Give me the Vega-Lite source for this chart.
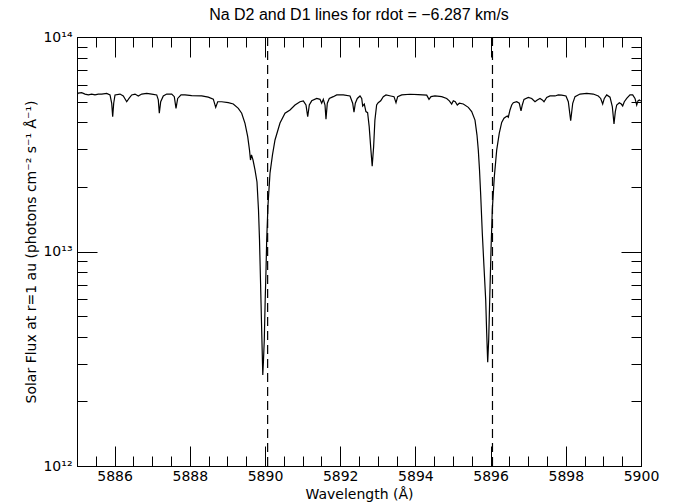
{
  "$schema": "https://vega.github.io/schema/vega-lite/v6.json",
  "width": 564,
  "height": 429,
  "autosize": "none",
  "padding": {"left": 77, "top": 37, "right": 46, "bottom": 38},
  "background": "white",
  "title": {"text": "Na D2 and D1 lines for rdot = −6.287 km/s", "font": "Liberation Sans", "fontSize": 16, "fontWeight": "normal", "color": "black", "anchor": "middle", "offset": 7},
  "config": {
    "view": {"stroke": "black", "strokeWidth": 1},
    "axis": {"grid": false, "domainColor": "black", "tickColor": "black", "labelColor": "black", "titleColor": "black", "labelFont": "DejaVu Sans", "titleFont": "DejaVu Sans", "labelFontSize": 14, "titleFontSize": 14, "titleFontWeight": "normal", "tickWidth": 1, "domainWidth": 1}
  },
  "datasets": {
    "spec": [
      {"w": 5885.000, "f": 5.37e13}, {"w": 5885.035, "f": 5.48e13}, {"w": 5885.125, "f": 5.50e13}, {"w": 5885.213, "f": 5.42e13},
      {"w": 5885.301, "f": 5.37e13}, {"w": 5885.391, "f": 5.42e13}, {"w": 5885.479, "f": 5.37e13}, {"w": 5885.566, "f": 5.42e13},
      {"w": 5885.657, "f": 5.42e13}, {"w": 5885.790, "f": 5.46e13}, {"w": 5885.878, "f": 5.37e13}, {"w": 5885.923, "f": 4.91e13},
      {"w": 5885.949, "f": 4.25e13}, {"w": 5885.976, "f": 4.91e13}, {"w": 5886.011, "f": 5.37e13}, {"w": 5886.144, "f": 5.42e13},
      {"w": 5886.231, "f": 5.31e13}, {"w": 5886.322, "f": 4.99e13}, {"w": 5886.383, "f": 5.17e13}, {"w": 5886.455, "f": 5.37e13},
      {"w": 5886.543, "f": 5.42e13}, {"w": 5886.630, "f": 5.31e13}, {"w": 5886.721, "f": 5.42e13}, {"w": 5886.854, "f": 5.46e13},
      {"w": 5886.987, "f": 5.42e13}, {"w": 5887.120, "f": 5.37e13}, {"w": 5887.162, "f": 5.09e13}, {"w": 5887.189, "f": 4.41e13},
      {"w": 5887.226, "f": 4.99e13}, {"w": 5887.295, "f": 5.31e13}, {"w": 5887.386, "f": 5.42e13}, {"w": 5887.519, "f": 5.42e13},
      {"w": 5887.588, "f": 5.27e13}, {"w": 5887.633, "f": 4.65e13}, {"w": 5887.678, "f": 5.17e13}, {"w": 5887.766, "f": 5.37e13},
      {"w": 5887.872, "f": 5.37e13}, {"w": 5888.051, "f": 5.33e13}, {"w": 5888.316, "f": 5.31e13}, {"w": 5888.492, "f": 5.24e13},
      {"w": 5888.625, "f": 5.13e13}, {"w": 5888.689, "f": 4.70e13}, {"w": 5888.742, "f": 4.99e13}, {"w": 5888.848, "f": 4.99e13},
      {"w": 5889.024, "f": 4.94e13}, {"w": 5889.157, "f": 4.87e13}, {"w": 5889.290, "f": 4.65e13}, {"w": 5889.380, "f": 4.41e13},
      {"w": 5889.468, "f": 3.96e13}, {"w": 5889.540, "f": 3.43e13}, {"w": 5889.588, "f": 2.97e13}, {"w": 5889.614, "f": 2.67e13},
      {"w": 5889.641, "f": 2.82e13}, {"w": 5889.681, "f": 2.67e13}, {"w": 5889.734, "f": 2.40e13}, {"w": 5889.787, "f": 2.11e13},
      {"w": 5889.827, "f": 1.56e13}, {"w": 5889.854, "f": 1.13e13}, {"w": 5889.880, "f": 7.36e12}, {"w": 5889.907, "f": 4.64e12},
      {"w": 5889.928, "f": 3.29e12}, {"w": 5889.941, "f": 2.66e12}, {"w": 5889.960, "f": 3.12e12}, {"w": 5889.981, "f": 3.87e12},
      {"w": 5890.005, "f": 5.94e12}, {"w": 5890.027, "f": 8.20e12}, {"w": 5890.045, "f": 1.13e13}, {"w": 5890.080, "f": 1.65e13},
      {"w": 5890.133, "f": 2.32e13}, {"w": 5890.199, "f": 2.82e13}, {"w": 5890.266, "f": 3.31e13}, {"w": 5890.399, "f": 3.97e13},
      {"w": 5890.532, "f": 4.41e13}, {"w": 5890.665, "f": 4.57e13}, {"w": 5890.798, "f": 4.82e13}, {"w": 5890.931, "f": 4.99e13},
      {"w": 5891.019, "f": 5.04e13}, {"w": 5891.090, "f": 4.82e13}, {"w": 5891.136, "f": 4.25e13}, {"w": 5891.178, "f": 4.82e13},
      {"w": 5891.242, "f": 5.04e13}, {"w": 5891.375, "f": 5.17e13}, {"w": 5891.463, "f": 5.12e13}, {"w": 5891.508, "f": 4.91e13},
      {"w": 5891.551, "f": 5.12e13}, {"w": 5891.596, "f": 4.82e13}, {"w": 5891.622, "f": 4.14e13}, {"w": 5891.657, "f": 4.91e13},
      {"w": 5891.710, "f": 5.17e13}, {"w": 5891.816, "f": 5.27e13}, {"w": 5891.907, "f": 5.37e13}, {"w": 5892.082, "f": 5.37e13},
      {"w": 5892.261, "f": 5.31e13}, {"w": 5892.332, "f": 4.91e13}, {"w": 5892.367, "f": 4.46e13}, {"w": 5892.402, "f": 4.91e13},
      {"w": 5892.455, "f": 5.17e13}, {"w": 5892.527, "f": 5.31e13}, {"w": 5892.572, "f": 5.17e13}, {"w": 5892.598, "f": 4.77e13},
      {"w": 5892.641, "f": 4.87e13}, {"w": 5892.684, "f": 4.49e13}, {"w": 5892.729, "f": 4.44e13}, {"w": 5892.771, "f": 3.82e13},
      {"w": 5892.817, "f": 2.97e13}, {"w": 5892.851, "f": 2.50e13}, {"w": 5892.889, "f": 3.08e13}, {"w": 5892.923, "f": 4.10e13},
      {"w": 5892.969, "f": 4.82e13}, {"w": 5893.011, "f": 4.94e13}, {"w": 5893.077, "f": 5.04e13}, {"w": 5893.146, "f": 5.27e13},
      {"w": 5893.218, "f": 5.37e13}, {"w": 5893.343, "f": 5.31e13}, {"w": 5893.431, "f": 5.27e13}, {"w": 5893.484, "f": 4.94e13},
      {"w": 5893.529, "f": 5.27e13}, {"w": 5893.636, "f": 5.37e13}, {"w": 5893.856, "f": 5.41e13}, {"w": 5894.077, "f": 5.39e13},
      {"w": 5894.301, "f": 5.36e13}, {"w": 5894.362, "f": 5.12e13}, {"w": 5894.415, "f": 5.27e13}, {"w": 5894.521, "f": 5.31e13},
      {"w": 5894.699, "f": 5.27e13}, {"w": 5894.832, "f": 5.17e13}, {"w": 5894.902, "f": 5.04e13}, {"w": 5894.965, "f": 4.87e13},
      {"w": 5895.008, "f": 5.04e13}, {"w": 5895.061, "f": 4.99e13}, {"w": 5895.114, "f": 4.82e13}, {"w": 5895.168, "f": 4.91e13},
      {"w": 5895.274, "f": 4.87e13}, {"w": 5895.407, "f": 4.70e13}, {"w": 5895.497, "f": 4.49e13}, {"w": 5895.585, "f": 4.10e13},
      {"w": 5895.638, "f": 3.49e13}, {"w": 5895.673, "f": 2.97e13}, {"w": 5895.705, "f": 2.40e13}, {"w": 5895.737, "f": 1.83e13},
      {"w": 5895.779, "f": 1.22e13}, {"w": 5895.824, "f": 8.50e12}, {"w": 5895.870, "f": 5.94e12}, {"w": 5895.896, "f": 4.17e12},
      {"w": 5895.923, "f": 3.05e12}, {"w": 5895.949, "f": 3.87e12}, {"w": 5895.976, "f": 5.94e12}, {"w": 5896.011, "f": 1.02e13},
      {"w": 5896.045, "f": 1.56e13}, {"w": 5896.098, "f": 2.22e13}, {"w": 5896.162, "f": 2.97e13}, {"w": 5896.231, "f": 3.56e13},
      {"w": 5896.295, "f": 4.00e13}, {"w": 5896.356, "f": 4.18e13}, {"w": 5896.410, "f": 4.25e13}, {"w": 5896.444, "f": 4.28e13},
      {"w": 5896.471, "f": 4.23e13}, {"w": 5896.516, "f": 4.57e13}, {"w": 5896.561, "f": 4.82e13}, {"w": 5896.604, "f": 4.94e13},
      {"w": 5896.694, "f": 4.99e13}, {"w": 5896.763, "f": 4.91e13}, {"w": 5896.809, "f": 4.53e13}, {"w": 5896.843, "f": 4.82e13},
      {"w": 5896.888, "f": 5.12e13}, {"w": 5897.003, "f": 5.23e13}, {"w": 5897.093, "f": 5.17e13}, {"w": 5897.181, "f": 4.99e13},
      {"w": 5897.242, "f": 5.09e13}, {"w": 5897.314, "f": 5.17e13}, {"w": 5897.375, "f": 5.09e13}, {"w": 5897.420, "f": 4.99e13},
      {"w": 5897.492, "f": 5.23e13}, {"w": 5897.580, "f": 5.31e13}, {"w": 5897.713, "f": 5.31e13}, {"w": 5897.801, "f": 5.37e13},
      {"w": 5897.891, "f": 5.36e13}, {"w": 5898.005, "f": 5.31e13}, {"w": 5898.067, "f": 4.99e13}, {"w": 5898.130, "f": 4.07e13},
      {"w": 5898.184, "f": 4.91e13}, {"w": 5898.245, "f": 5.27e13}, {"w": 5898.378, "f": 5.42e13}, {"w": 5898.556, "f": 5.46e13},
      {"w": 5898.731, "f": 5.42e13}, {"w": 5898.864, "f": 5.31e13}, {"w": 5898.928, "f": 5.17e13}, {"w": 5898.981, "f": 4.87e13},
      {"w": 5899.024, "f": 5.17e13}, {"w": 5899.088, "f": 5.37e13}, {"w": 5899.176, "f": 5.24e13}, {"w": 5899.237, "f": 4.74e13},
      {"w": 5899.282, "f": 3.93e13}, {"w": 5899.317, "f": 4.49e13}, {"w": 5899.354, "f": 4.82e13}, {"w": 5899.423, "f": 4.94e13},
      {"w": 5899.476, "f": 4.87e13}, {"w": 5899.513, "f": 4.77e13}, {"w": 5899.556, "f": 4.99e13}, {"w": 5899.620, "f": 5.17e13},
      {"w": 5899.707, "f": 5.37e13}, {"w": 5899.779, "f": 5.37e13}, {"w": 5899.840, "f": 5.17e13}, {"w": 5899.886, "f": 4.82e13},
      {"w": 5899.920, "f": 5.04e13}, {"w": 5899.955, "f": 5.09e13}, {"w": 5899.992, "f": 5.03e13}
    ],
    "lines": [
      {"w": 5890.07, "lo": 1e12, "hi": 1e14},
      {"w": 5896.05, "lo": 1e12, "hi": 1e14}
    ]
  },
  "layer": [
    {
      "data": {"name": "spec"},
      "mark": {"type": "line", "color": "black", "strokeWidth": 1.2, "clip": true},
      "encoding": {
        "x": {
          "field": "w", "type": "quantitative",
          "scale": {"domain": [5885, 5900], "nice": false, "zero": false},
          "axis": {
            "orient": "bottom", "title": "Wavelength (Å)",
            "values": [5885, 5885.5, 5886, 5886.5, 5887, 5887.5, 5888, 5888.5, 5889, 5889.5, 5890, 5890.5, 5891, 5891.5, 5892, 5892.5, 5893, 5893.5, 5894, 5894.5, 5895, 5895.5, 5896, 5896.5, 5897, 5897.5, 5898, 5898.5, 5899, 5899.5, 5900],
            "tickSize": {"condition": {"test": "datum.value % 2 == 0", "value": -20}, "value": -10},
            "labelExpr": "datum.value % 2 == 0 ? format(datum.value, 'd') : ''",
            "labelPadding": 23, "labelFlush": false, "labelOverlap": false, "titlePadding": -6
          }
        },
        "y": {
          "field": "f", "type": "quantitative",
          "scale": {"type": "log", "domain": [1e12, 1e14], "nice": false},
          "axis": {
            "orient": "left", "title": "Solar Flux at r=1 au (photons cm⁻² s⁻¹ Å⁻¹)",
            "values": [1e12, 2e12, 3e12, 4e12, 5e12, 6e12, 7e12, 8e12, 9e12, 1e13, 2e13, 3e13, 4e13, 5e13, 6e13, 7e13, 8e13, 9e13, 1e14],
            "tickSize": {"condition": {"test": "datum.value == 1e12 || datum.value == 1e13 || datum.value == 1e14", "value": -20}, "value": -10},
            "labelExpr": "datum.value == 1e12 ? '10¹²' : datum.value == 1e13 ? '10¹³' : datum.value == 1e14 ? '10¹⁴' : ''",
            "labelPadding": 25, "labelFlush": false, "labelOverlap": false, "titlePadding": 4
          }
        }
      }
    },
    {
      "data": {"name": "lines"},
      "mark": {"type": "rule", "color": "black", "strokeWidth": 1.2, "strokeDash": [9, 5]},
      "encoding": {
        "x": {
          "field": "w", "type": "quantitative",
          "scale": {"domain": [5885, 5900], "nice": false, "zero": false},
          "axis": {
            "orient": "top", "title": null, "labels": false,
            "values": [5885, 5885.5, 5886, 5886.5, 5887, 5887.5, 5888, 5888.5, 5889, 5889.5, 5890, 5890.5, 5891, 5891.5, 5892, 5892.5, 5893, 5893.5, 5894, 5894.5, 5895, 5895.5, 5896, 5896.5, 5897, 5897.5, 5898, 5898.5, 5899, 5899.5, 5900],
            "tickSize": {"condition": {"test": "datum.value % 2 == 0", "value": -20}, "value": -10}
          }
        },
        "y": {
          "field": "lo", "type": "quantitative",
          "scale": {"type": "log", "domain": [1e12, 1e14], "nice": false},
          "axis": {
            "orient": "right", "title": null, "labels": false,
            "values": [1e12, 2e12, 3e12, 4e12, 5e12, 6e12, 7e12, 8e12, 9e12, 1e13, 2e13, 3e13, 4e13, 5e13, 6e13, 7e13, 8e13, 9e13, 1e14],
            "tickSize": {"condition": {"test": "datum.value == 1e12 || datum.value == 1e13 || datum.value == 1e14", "value": -20}, "value": -10}
          }
        },
        "y2": {"field": "hi"}
      }
    }
  ],
  "resolve": {"axis": {"x": "independent", "y": "independent"}}
}
